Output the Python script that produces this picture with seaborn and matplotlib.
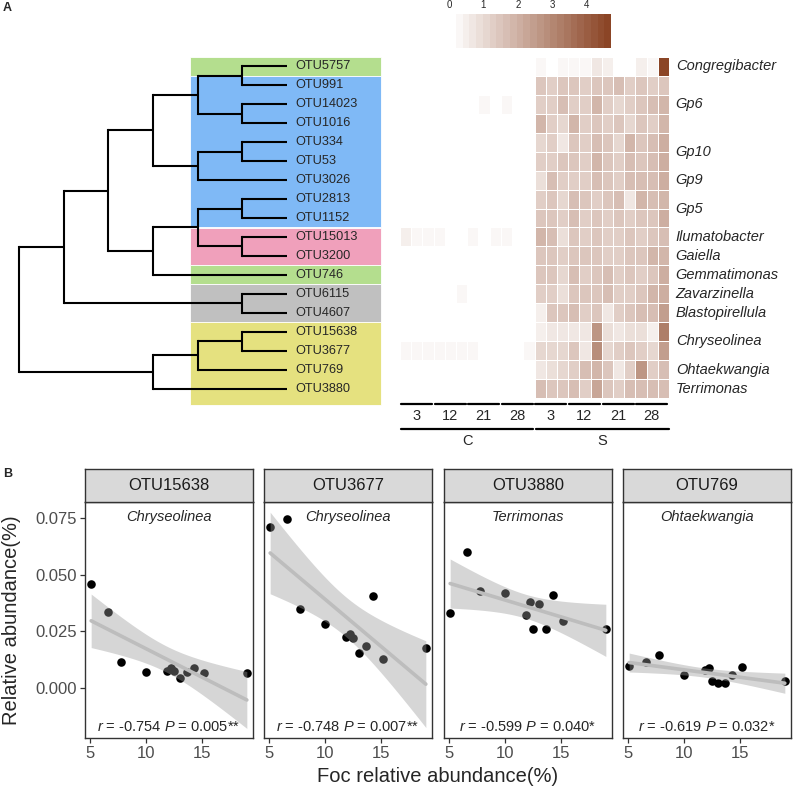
import numpy as np
import pandas as pd
import matplotlib
matplotlib.use('Agg')
import matplotlib.pyplot as plt
import seaborn as sns
from matplotlib.colors import LinearSegmentedColormap, Normalize
from matplotlib.patches import Rectangle
import matplotlib.cm as cm

sns.set_style('white')
plt.rcParams['font.family'] = ['Liberation Sans', 'DejaVu Sans']
plt.rcParams['mathtext.fontset'] = 'custom'
plt.rcParams['mathtext.rm'] = 'Liberation Sans'
plt.rcParams['mathtext.it'] = 'Liberation Sans:italic'

# ---- panel A data ----
otus = ['OTU5757', 'OTU991', 'OTU14023', 'OTU1016', 'OTU334', 'OTU53', 'OTU3026',
        'OTU2813', 'OTU1152', 'OTU15013', 'OTU3200', 'OTU746', 'OTU6115', 'OTU4607',
        'OTU15638', 'OTU3677', 'OTU769', 'OTU3880']
genus = ['Congregibacter', 'Gp6', 'Gp6', 'Gp6', 'Gp10', 'Gp10', 'Gp9', 'Gp5', 'Gp5',
         'Ilumatobacter', 'Gaiella', 'Gemmatimonas', 'Zavarzinella', 'Blastopirellula',
         'Chryseolinea', 'Chryseolinea', 'Ohtaekwangia', 'Terrimonas']
clade = ['g', 'b', 'b', 'b', 'b', 'b', 'b', 'b', 'b', 'p', 'p', 'g2', 'k', 'k',
         'y', 'y', 'y', 'y']
clade_colors = {'g': '#b4de8e', 'g2': '#b4de8e', 'b': '#7fb9f6', 'p': '#f0a0bb',
                'k': '#c0c0c0', 'y': '#e5e17f'}

# merges: (node, left, right, height)
merges = [
    ('n1', 'OTU5757', 'OTU991', 1),
    ('n2', 'OTU14023', 'OTU1016', 1),
    ('n3', 'n1', 'n2', 2),
    ('n4', 'OTU334', 'OTU53', 1),
    ('n5', 'n4', 'OTU3026', 2),
    ('n6', 'n3', 'n5', 3),
    ('n7', 'OTU2813', 'OTU1152', 1),
    ('n8', 'OTU15013', 'OTU3200', 1),
    ('n9', 'n7', 'n8', 2),
    ('n10', 'n9', 'OTU746', 3),
    ('n11', 'n6', 'n10', 4),
    ('n12', 'OTU6115', 'OTU4607', 1),
    ('n13', 'n11', 'n12', 5),
    ('n14', 'OTU15638', 'OTU3677', 1),
    ('n15', 'n14', 'OTU769', 2),
    ('n16', 'n15', 'OTU3880', 3),
    ('n17', 'n13', 'n16', 6),
]

days = ['3', '12', '21', '28']
treatments = ['C', 'S']

c_vals = [
    [0, 0, 0, 0, 0, 0.15, 0, 0, 0.05, 0.05, 0.05, 0.05],
    [0, 0, 0, 0, 0, 0, 0, 0, 0, 0, 0, 0],
    [0.1, 0.15, 0, 0, 0, 0.1, 0.05, 0.2, 0.05, 0.25, 0, 0],
    [0, 0, 0, 0, 0.1, 0, 0, 0, 0, 0, 0, 0],
    [0, 0, 0, 0.1, 0, 0, 0, 0, 0, 0.1, 0, 0.1],
    [0.15, 0, 0, 0, 0, 0, 0, 0, 0.15, 0, 0, 0],
    [0, 0, 0.1, 0, 0, 0, 0, 0.1, 0, 0, 0, 0],
    [0, 0, 0.1, 0, 0.1, 0, 0, 0.1, 0, 0.05, 0, 0],
    [0, 0, 0, 0.05, 0, 0, 0, 0, 0.05, 0, 0, 0.05],
    [0.5, 0.2, 0.2, 0.2, 0.15, 0, 0.2, 0.15, 0.2, 0.2, 0.15, 0],
    [0, 0, 0.1, 0, 0.15, 0, 0, 0, 0, 0, 0, 0],
    [0.1, 0, 0, 0.1, 0, 0, 0, 0, 0, 0, 0, 0],
    [0, 0, 0, 0.1, 0, 0.2, 0, 0, 0, 0, 0, 0],
    [0, 0, 0, 0, 0, 0, 0, 0.15, 0.1, 0, 0, 0.1],
    [0, 0, 0, 0, 0, 0, 0, 0, 0, 0, 0.05, 0.05],
    [0.2, 0.2, 0.25, 0.2, 0.2, 0.2, 0.2, 0.15, 0.15, 0.15, 0.15, 0.2],
    [0.05, 0, 0, 0.05, 0, 0, 0.05, 0.1, 0.1, 0.15, 0.1, 0.1],
    [0, 0, 0, 0, 0.1, 0, 0.15, 0.15, 0, 0, 0, 0],
]
s_vals = [
    [0.2, 0.05, 0.3, 0.3, 0.3, 0.7, 0.4, 0.15, 0.15, 0.4, 0.2, 4.7],
    [1.4, 1.3, 1.4, 1.5, 1.3, 1.5, 1.5, 1.6, 1.3, 1.4, 1.3, 1.5],
    [1.2, 1.3, 1.6, 1.3, 1.2, 1.8, 1.2, 1.1, 1.3, 1.5, 1.6, 1.9],
    [1.8, 1.2, 1.0, 1.9, 1.2, 1.4, 1.3, 1.5, 1.0, 1.5, 1.3, 1.9],
    [1.0, 1.2, 0.7, 1.4, 1.3, 1.6, 1.5, 1.0, 1.8, 1.5, 1.7, 2.0],
    [1.3, 1.2, 1.4, 1.5, 1.3, 1.9, 1.4, 1.3, 1.6, 1.5, 1.6, 2.0],
    [0.9, 1.7, 1.2, 1.3, 1.2, 1.6, 1.5, 1.3, 1.6, 1.6, 1.7, 2.1],
    [1.3, 1.4, 1.1, 1.7, 1.5, 1.2, 1.5, 1.7, 0.7, 1.8, 1.6, 1.9],
    [1.4, 1.4, 1.3, 1.6, 1.2, 1.5, 1.3, 1.4, 1.3, 1.5, 1.4, 2.1],
    [1.8, 1.6, 0.8, 1.4, 1.2, 1.4, 1.3, 1.2, 1.5, 1.3, 1.4, 1.6],
    [1.5, 1.5, 1.3, 1.5, 1.4, 1.5, 1.3, 1.2, 1.4, 1.4, 1.9, 1.9],
    [1.4, 1.4, 1.0, 1.6, 1.2, 1.5, 1.6, 1.2, 1.5, 1.3, 1.4, 2.1],
    [1.3, 1.2, 0.9, 1.5, 1.4, 1.4, 1.6, 1.3, 1.3, 1.5, 1.9, 2.1],
    [0.5, 1.5, 1.5, 1.6, 1.3, 1.4, 0.6, 1.2, 1.4, 1.6, 1.6, 2.5],
    [0.4, 0.7, 0.6, 0.7, 0.7, 2.6, 0.9, 0.6, 0.8, 0.8, 0.5, 3.3],
    [1.0, 1.0, 1.1, 1.4, 0.7, 2.8, 1.1, 1.2, 1.5, 1.2, 1.1, 2.4],
    [0.6, 0.8, 1.0, 1.3, 1.6, 1.9, 1.4, 0.7, 1.3, 2.7, 1.3, 1.7],
    [1.6, 1.5, 1.5, 1.6, 1.3, 2.3, 1.4, 1.2, 1.6, 1.7, 1.6, 1.6],
]

# ---- panel B data ----
foc = [5.1, 6.6, 7.8, 10.0, 11.9, 12.2, 12.5, 13.0, 13.7, 14.3, 15.2, 19.0]
facet_otus = ['OTU15638', 'OTU3677', 'OTU3880', 'OTU769']
facet_genus = ['Chryseolinea', 'Chryseolinea', 'Terrimonas', 'Ohtaekwangia']
facet_stats = ['$r$ = -0.754 $P$ = 0.005**', '$r$ = -0.748 $P$ = 0.007**',
               '$r$ = -0.599 $P$ = 0.040*', '$r$ = -0.619 $P$ = 0.032*']
abund_15638 = [0.0460, 0.0337, 0.0114, 0.0070, 0.0075, 0.0090, 0.0077, 0.0044, 0.0070, 0.0088, 0.0068, 0.0066]
abund_3677 = [0.0710, 0.0744, 0.0348, 0.0284, 0.0224, 0.0237, 0.0220, 0.0154, 0.0187, 0.0407, 0.0127, 0.0176]
abund_3880 = [0.0332, 0.0599, 0.0429, 0.0417, 0.0323, 0.0378, 0.0262, 0.0373, 0.0262, 0.0411, 0.0296, 0.0262]
abund_769 = [0.0098, 0.0114, 0.0145, 0.0057, 0.0080, 0.0088, 0.0032, 0.0022, 0.0022, 0.0058, 0.0092, 0.0032]
facet_abund = [abund_15638, abund_3677, abund_3880, abund_769]

W, H = 793, 792
fig = plt.figure(figsize=(W / 100, H / 100), dpi=100)


def px(x0, y0, x1, y1):
    # pixel box (top-left origin) -> figure fraction rect
    return [x0 / W, 1 - y1 / H, (x1 - x0) / W, (y1 - y0) / H]


# ---------------- Panel A: tree ----------------
ax_tree = fig.add_axes(px(0, 57, 395, 398))
ax_tree.set_ylim(18, 0)
ax_tree.set_xlim(6.425, -2.418)
ax_tree.axis('off')

# coloured clade boxes
runs = []
for i, c in enumerate(clade):
    if runs and runs[-1][0] == c:
        runs[-1][2] = i + 1
    else:
        runs.append([c, i, i + 1])
for k, (c, a, b) in enumerate(runs):
    bot = b + 0.37 if k == len(runs) - 1 else b
    ax_tree.add_patch(Rectangle((2.171, a), -2.104 - 2.171, bot - a, facecolor=clade_colors[c],
                                edgecolor='white', lw=0.6, clip_on=False, zorder=0))

pos = {o: (0.0, i + 0.5) for i, o in enumerate(otus)}
for node, l, r, h in merges:
    hl, yl = pos[l]
    hr, yr = pos[r]
    ax_tree.plot([hl, h], [yl, yl], color='black', lw=1.5, solid_capstyle='butt', zorder=2)
    ax_tree.plot([hr, h], [yr, yr], color='black', lw=1.5, solid_capstyle='butt', zorder=2)
    ax_tree.plot([h, h], [yl, yr], color='black', lw=1.5, solid_capstyle='projecting', zorder=2)
    pos[node] = (h, (yl + yr) / 2)

for i, o in enumerate(otus):
    ax_tree.text(-0.18, i + 0.5, o, ha='left', va='center', fontsize=9.2, zorder=3)

# ---------------- Panel A: heatmap ----------------
cols = [f'{t}_{d}_{k}' for t in treatments for d in days for k in range(3)]
mat = pd.DataFrame([c + s for c, s in zip(c_vals, s_vals)], index=otus, columns=cols)
cmap = LinearSegmentedColormap.from_list('brn', ['#ffffff', '#8b4526'], N=24)
vmax = 4.7
ax_hm = fig.add_axes(px(400, 57, 669, 398))
sns.heatmap(mat, ax=ax_hm, cmap=cmap, vmin=0, vmax=vmax, cbar=False,
            linewidths=0.6, linecolor='white', xticklabels=False, yticklabels=False)

rows = np.arange(len(otus))
for g in dict.fromkeys(genus):
    yc = np.mean([i for i in rows if genus[i] == g]) + 0.5
    ax_hm.text(24.6, yc, g, ha='left', va='center', fontsize=10.5, style='italic')

for ti in range(2):
    for di, d in enumerate(days):
        x0 = ti * 12 + di * 3
        ax_hm.plot([x0 + 0.08, x0 + 2.85], [18.3, 18.3], color='black', lw=1.6, clip_on=False)
        ax_hm.text(x0 + 1.45, 18.95, d, ha='center', va='center', fontsize=10.5)
    ax_hm.plot([ti * 12 + 0.05 + ti * 0.1, ti * 12 + 11.9 + ti * 0.1], [19.62, 19.62],
               color='black', lw=1.6, clip_on=False)
    ax_hm.text(ti * 12 + 6, 20.25, treatments[ti], ha='center', va='center', fontsize=10.5)

# colour key
ax_cb = fig.add_axes(px(449, 14, 611, 48))
sm = cm.ScalarMappable(norm=Normalize(0, vmax), cmap=cmap)
cb = fig.colorbar(sm, cax=ax_cb, orientation='horizontal', ticks=[0, 1, 2, 3, 4])
cb.outline.set_visible(False)
ax_cb.tick_params(axis='x', which='both', direction='in', top=True, bottom=True,
                  labeltop=True, labelbottom=False, color='white', length=4, width=1,
                  labelsize=7, pad=3)

fig.text(3 / W, 1 - 8 / H, 'A', fontsize=9, fontweight='bold', va='center', ha='left')
fig.text(3 / W, 1 - 474 / H, 'B', fontsize=9, fontweight='bold', va='center', ha='left')

# ---------------- Panel B ----------------
edge = '#333333'
xs0 = [85, 264, 444, 623]
for i in range(4):
    x0 = xs0[i]
    ax = fig.add_axes(px(x0, 502, x0 + 168, 738))
    df = pd.DataFrame({'foc': foc, 'abund': facet_abund[i]})
    sns.regplot(data=df, x='foc', y='abund', ax=ax, ci=None,
                scatter_kws=dict(color='black', s=38, alpha=1, linewidths=0, zorder=2),
                line_kws=dict(color='#bdbdbd', lw=2.6, zorder=4))
    # 95% confidence band (t-based, like geom_smooth)
    x = np.array(foc)
    y = np.array(facet_abund[i])
    b1, b0 = np.polyfit(x, y, 1)
    n = len(x)
    resid = y - (b0 + b1 * x)
    s = np.sqrt(np.sum(resid ** 2) / (n - 2))
    xg = np.linspace(x.min(), x.max(), 100)
    se = s * np.sqrt(1 / n + (xg - x.mean()) ** 2 / np.sum((x - x.mean()) ** 2))
    ax.fill_between(xg, b0 + b1 * xg - 2.228 * se, b0 + b1 * xg + 2.228 * se,
                    color='#999999', alpha=0.4, lw=0, zorder=3)
    ax.set_xlim(4.55, 19.55)
    ax.set_ylim(-0.0218, 0.0819)
    ax.set_xlabel('')
    ax.set_ylabel('')
    ax.set_xticks([5, 10, 15])
    ax.set_xticklabels(['5', '10', '15'])
    if i == 0:
        ax.set_yticks([0, 0.025, 0.05, 0.075])
        ax.set_yticklabels(['0.000', '0.025', '0.050', '0.075'])
    else:
        ax.set_yticks([])
    ax.tick_params(axis='both', direction='out', length=3.5, width=0.9, color=edge,
                   labelcolor='#4d4d4d', labelsize=12, pad=2)
    ax.tick_params(axis='x', bottom=True)
    ax.tick_params(axis='y', left=True)
    for sp in ax.spines.values():
        sp.set_color(edge)
        sp.set_linewidth(1.0)
    ax.text(0.5, 0.936, facet_genus[i], transform=ax.transAxes, ha='center', va='center',
            fontsize=10.5, style='italic')
    ax.text(0.5, 0.047, facet_stats[i], transform=ax.transAxes, ha='center', va='center',
            fontsize=10.5)

    strip = fig.add_axes(px(x0, 469, x0 + 168, 502))
    strip.set_facecolor('#d9d9d9')
    strip.set_xticks([])
    strip.set_yticks([])
    for sp in strip.spines.values():
        sp.set_color(edge)
        sp.set_linewidth(1.0)
    strip.text(0.5, 0.5, facet_otus[i], ha='center', va='center', fontsize=12,
               color='#1a1a1a', transform=strip.transAxes)

fig.text(12 / W, 1 - 620 / H, 'Relative abundance(%)', rotation=90, ha='center',
         va='center', fontsize=14.5)
fig.text(438 / W, 1 - 776 / H, 'Foc relative abundance(%)', ha='center', va='center',
         fontsize=14.5)

fig.savefig('out.png', dpi=100)
